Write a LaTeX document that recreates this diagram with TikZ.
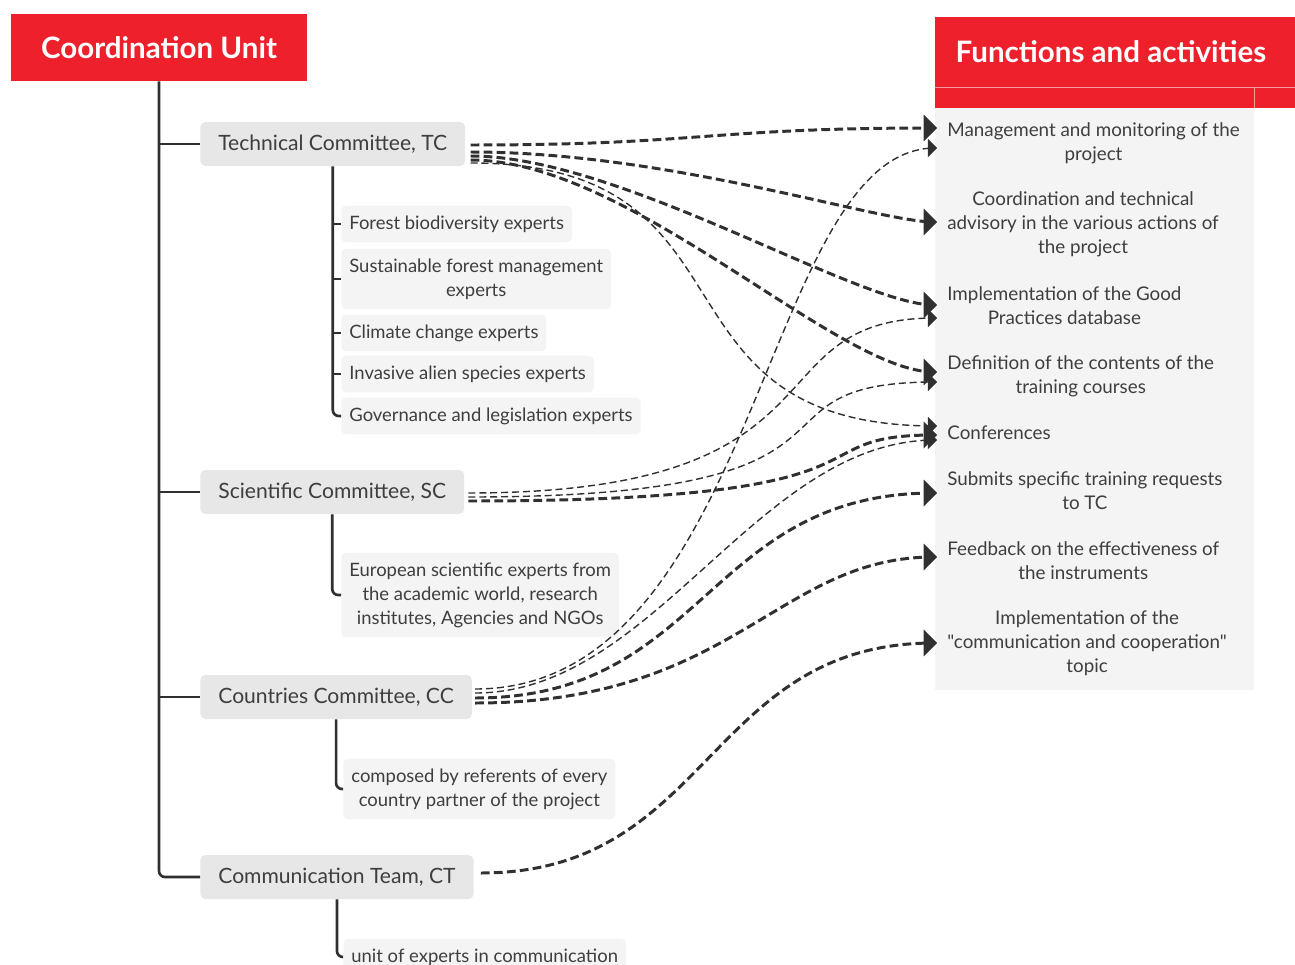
\documentclass[tikz,border=0pt]{standalone}
\usepackage{fontspec}
\setmainfont{Lato}[Ligatures=TeXOff]
\usetikzlibrary{arrows,calc}

\definecolor{unitred}{RGB}{238,32,43}
\definecolor{cmtegray}{RGB}{231,231,231}
\definecolor{itemgray}{RGB}{245,244,245}
\definecolor{textgray}{RGB}{62,62,62}
\definecolor{linegray}{RGB}{48,48,48}

\tikzset{
  head/.style={fill=unitred, text=white, font=\bfseries\fontsize{16.8}{19}\selectfont},
  cmte/.style={fill=cmtegray, text=textgray, rounded corners=1mm, anchor=west,
    inner xsep=3.6mm, minimum height=8.8mm, font=\fontsize{12}{14}\selectfont},
  item/.style={fill=itemgray, text=textgray, rounded corners=1mm, anchor=west,
    align=center, inner xsep=1.6mm, inner ysep=2mm, font=\fontsize{10.5}{13.6}\selectfont},
  act/.style={text=textgray, anchor=west, align=center, inner xsep=2mm,
    font=\fontsize{10.7}{13.6}\selectfont},
  tree/.style={draw=linegray, line width=1.5pt, rounded corners=1.2mm},
  strong/.style={->, draw=linegray, line width=1.7pt, dash pattern=on 5pt off 2.4pt},
  weak/.style={->, draw=linegray, line width=0.8pt, dash pattern=on 4pt off 2.2pt},
}

\begin{document}
\begin{tikzpicture}[x=0.2mm, y=-0.2mm, >=triangle 90]
\useasboundingbox (0,0) rectangle (1295,964);

% right column
\fill[itemgray] (935,108) rectangle (1254,690);
\fill[unitred] (935,17) rectangle (1295,108);
\draw[white!55!unitred, line width=0.4pt] (935,87) -- (1295,87) (1254,87) -- (1254,108);
\node [head, fill=none] (fa) at (1111,52) {Functions and activities};

\node [act] (mgmt)  at (937,143) {Management and monitoring of the\\project};
\node [act] (coord) at (937,224) {Coordination and technical\\advisory in the various actions of\\the project};
\node [act] (gp)    at (937,306) {Implementation of the Good\\Practices database};
\node [act] (defn)  at (937,376) {Definition of the contents of the\\training courses};
\node [act] (conf)  at (937,433) {Conferences};
\node [act] (subm)  at (937,491) {Submits specific training requests\\to TC};
\node [act] (feed)  at (937,561) {Feedback on the effectiveness of\\the instruments};
\node [act] (comm)  at (937,643) {Implementation of the\\"communication and cooperation"\\topic};

% tree
\node [head, minimum width=59.2mm, minimum height=13.4mm] (cu) at (159,47.5) {Coordination Unit};

\node [cmte] (tc) at (200,144) {Technical Committee, TC};
\node [cmte] (sc) at (200,492) {Scientific Committee, SC};
\node [cmte] (cc) at (200,697) {Countries Committee, CC};
\node [cmte] (ct) at (200,877) {Communication Team, CT};

\node [item] (tc1) at (341,224) {Forest biodiversity experts};
\node [item] (tc2) at (341,279) {Sustainable forest management\\experts};
\node [item] (tc3) at (341,333) {Climate change experts};
\node [item] (tc4) at (341,374) {Invasive alien species experts};
\node [item] (tc5) at (341,416) {Governance and legislation experts};
\node [item] (sc1) at (341,595) {European scientific experts from\\the academic world, research\\institutes, Agencies and NGOs};
\node [item] (cc1) at (343,789) {composed by referents of every\\country partner of the project};
\node [item] (ct1) at (343,957) {unit of experts in communication};

\draw [tree] (cu.south) |- (ct.west);
\draw [tree] (cu.south |- tc.west) -- (tc.west);
\draw [tree] (cu.south |- sc.west) -- (sc.west);
\draw [tree] (cu.south |- cc.west) -- (cc.west);

\draw [tree] (tc.south) |- (tc5.west);
\draw [tree] (tc.south |- tc1.west) -- (tc1.west);
\draw [tree] (tc.south |- tc2.west) -- (tc2.west);
\draw [tree] (tc.south |- tc3.west) -- (tc3.west);
\draw [tree] (tc.south |- tc4.west) -- (tc4.west);
\draw [tree] (sc.south) |- (sc1.west);
\draw [tree] (cc.south) |- (cc1.west);
\draw [tree] (ct.south) |- (ct1.west);

% links
\draw [strong] ($(tc.east)+(5,1)$)  .. controls +(230,0) and +(-230,0) .. ($(mgmt.west)+(0,-15)$);
\draw [strong] ($(tc.east)+(5,8)$)  .. controls +(200,0) and +(-60,0)  .. ($(coord.west)+(0,-2)$);
\draw [strong] ($(tc.east)+(5,12)$) .. controls +(150,0) and +(-80,0)  .. ($(gp.west)+(0,-1)$);
\draw [strong] ($(tc.east)+(5,16)$) .. controls +(160,0) and +(-100,0) .. ($(defn.west)+(0,-4)$);
\draw [weak]   ($(tc.east)+(5,19)$) .. controls +(300,0) and +(-300,0) .. ($(conf.west)+(0,-7)$);

\draw [weak]   ($(sc.east)+(4,1)$) .. controls +(390,0) and +(-190,0) .. ($(gp.west)+(0,12)$);
\draw [weak]   ($(sc.east)+(4,5)$) .. controls +(440,0) and +(-210,0) .. ($(defn.west)+(0,6)$);
\draw [strong] ($(sc.east)+(4,9)$) .. controls +(450,0) and +(-150,0) .. ($(conf.west)+(0,2)$);

\draw [weak]   ($(cc.east)+(3,-8)$) .. controls +(285,0) and +(-175,0) .. ($(mgmt.west)+(0,5)$);
\draw [weak]   ($(cc.east)+(3,-4)$) .. controls +(180,0) and +(-180,0) .. ($(conf.west)+(0,7)$);
\draw [strong] ($(cc.east)+(3,1)$)  .. controls +(230,0) and +(-230,0) .. ($(subm.west)+(0,2)$);
\draw [strong] ($(cc.east)+(3,6)$)  .. controls +(260,0) and +(-160,0) .. ($(feed.west)+(0,-4)$);

\draw [strong] ($(ct.east)+(7,-4)$) .. controls +(230,0) and +(-230,0) .. (comm.west);
\end{tikzpicture}
\end{document}
